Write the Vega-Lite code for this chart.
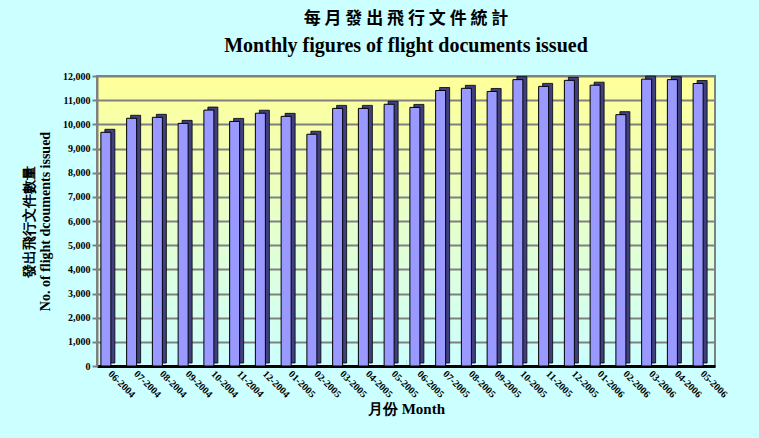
{
  "$schema": "https://vega.github.io/schema/vega-lite/v6.json",
  "autosize": {"type": "none"},
  "padding": {"left": 97, "top": 76, "right": 44, "bottom": 72},
  "width": 618,
  "height": 290,
  "background": "#CCFFFF",
  "view": {
    "stroke": "#808080",
    "strokeWidth": 2,
    "fill": {
      "gradient": "linear",
      "x1": 0, "y1": 0, "x2": 0, "y2": 1,
      "stops": [
        {"offset": 0, "color": "#FFFF99"},
        {"offset": 0.5, "color": "#E6FFCC"},
        {"offset": 1, "color": "#CCFFFF"}
      ]
    }
  },
  "title": {
    "text": "每 月 發 出 飛 行 文 件 統 計",
    "subtitle": "Monthly figures of flight documents issued",
    "font": "Noto Sans CJK TC",
    "fontSize": 17,
    "fontWeight": "bold",
    "color": "#000000",
    "subtitleFont": "Liberation Serif",
    "subtitleFontSize": 20,
    "subtitleFontWeight": "bold",
    "subtitleColor": "#000000",
    "subtitlePadding": 8,
    "offset": 14,
    "anchor": "middle"
  },
  "data": {
    "values": [
      {"month": "06-2004", "docs": 9670},
      {"month": "07-2004", "docs": 10250},
      {"month": "08-2004", "docs": 10290},
      {"month": "09-2004", "docs": 10040},
      {"month": "10-2004", "docs": 10590},
      {"month": "11-2004", "docs": 10120},
      {"month": "12-2004", "docs": 10460},
      {"month": "01-2005", "docs": 10330},
      {"month": "02-2005", "docs": 9590},
      {"month": "03-2005", "docs": 10660},
      {"month": "04-2005", "docs": 10660},
      {"month": "05-2005", "docs": 10830},
      {"month": "06-2005", "docs": 10700},
      {"month": "07-2005", "docs": 11400},
      {"month": "08-2005", "docs": 11490},
      {"month": "09-2005", "docs": 11360},
      {"month": "10-2005", "docs": 11850},
      {"month": "11-2005", "docs": 11570},
      {"month": "12-2005", "docs": 11820},
      {"month": "01-2006", "docs": 11620},
      {"month": "02-2006", "docs": 10400},
      {"month": "03-2006", "docs": 11870},
      {"month": "04-2006", "docs": 11850},
      {"month": "05-2006", "docs": 11690}
    ]
  },
  "encoding": {
    "x": {
      "field": "month",
      "type": "ordinal",
      "sort": null,
      "scale": {"paddingInner": 0.6, "paddingOuter": 0.3},
      "axis": {
        "title": "月份 Month",
        "titleFont": "Liberation Serif",
        "titleFontSize": 15,
        "titleFontWeight": "bold",
        "titleColor": "#000000",
        "titlePadding": 2,
        "labelAngle": 45,
        "labelAlign": "left",
        "labelBaseline": "middle",
        "labelFont": "Liberation Serif",
        "labelFontSize": 10,
        "labelFontWeight": "bold",
        "labelColor": "#000000",
        "labelPadding": 6,
        "ticks": false,
        "domainColor": "#000000",
        "domainWidth": 3
      }
    },
    "y": {
      "field": "docs",
      "type": "quantitative",
      "scale": {"domain": [0, 12000]},
      "axis": {
        "title": ["發出飛行文件數量", "No. of flight dcouments issued"],
        "titleFont": "Liberation Serif",
        "titleFontSize": 14,
        "titleFontWeight": "bold",
        "titleColor": "#000000",
        "titlePadding": 10,
        "format": ",.0f",
        "values": [0, 1000, 2000, 3000, 4000, 5000, 6000, 7000, 8000, 9000, 10000, 11000, 12000],
        "labelFont": "Liberation Serif",
        "labelFontSize": 10,
        "labelFontWeight": "bold",
        "labelColor": "#000000",
        "tickColor": "#808080",
        "tickSize": 5,
        "tickWidth": 2,
        "domainColor": "#808080",
        "domainWidth": 2,
        "grid": true,
        "gridColor": "#808080",
        "gridWidth": 2
      }
    }
  },
  "layer": [
    {
      "data": {"values": [{"docs": 0, "top": 250}]},
      "mark": {"type": "bar", "color": "#808080"},
      "encoding": {
        "x": null,
        "y2": {"field": "top"}
      }
    },
    {
      "mark": {"type": "bar", "size": 10, "color": "#404080", "stroke": "#000000", "strokeWidth": 0.8, "xOffset": 0, "yOffset": -3, "y2Offset": -3},
      "encoding": {}
    },
    {
      "mark": {"type": "bar", "size": 10, "color": "#9999FF", "stroke": "#000000", "strokeWidth": 1, "xOffset": -4},
      "encoding": {}
    }
  ]
}
